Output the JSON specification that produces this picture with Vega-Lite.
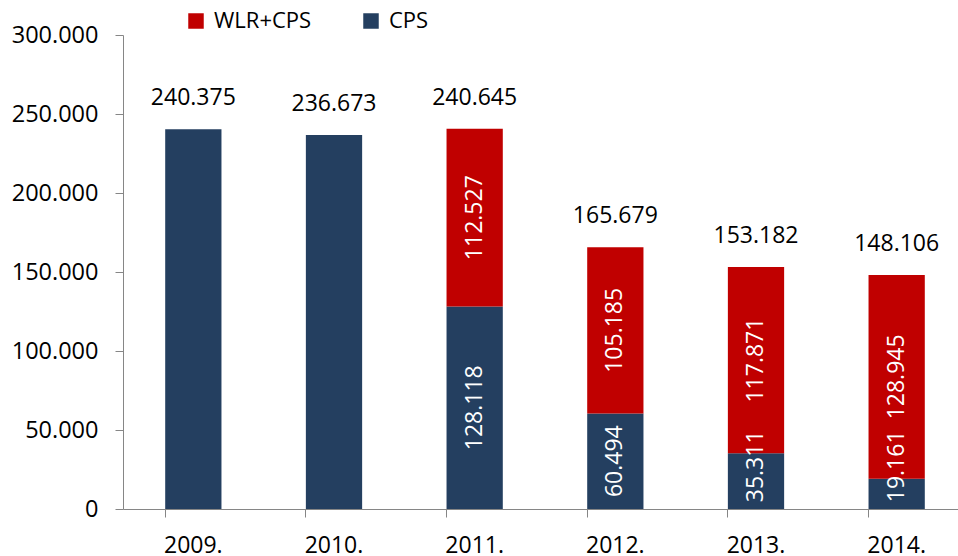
{
  "$schema": "https://vega.github.io/schema/vega-lite/v6.json",
  "autosize": {"type": "none"},
  "padding": {"left": 123, "top": 35, "right": 0, "bottom": 47},
  "width": 835,
  "height": 474,
  "config": {
    "view": {"stroke": null},
    "font": "Open Sans",
    "locale": {"number": {"decimal": ",", "thousands": ".", "grouping": [3], "currency": ["", ""]}}
  },
  "data": {"values": [
    {"year": "2009.", "series": "CPS", "value": 240375},
    {"year": "2010.", "series": "CPS", "value": 236673},
    {"year": "2011.", "series": "CPS", "value": 128118},
    {"year": "2011.", "series": "WLR+CPS", "value": 112527},
    {"year": "2012.", "series": "CPS", "value": 60494},
    {"year": "2012.", "series": "WLR+CPS", "value": 105185},
    {"year": "2013.", "series": "CPS", "value": 35311},
    {"year": "2013.", "series": "WLR+CPS", "value": 117871},
    {"year": "2014.", "series": "CPS", "value": 19161},
    {"year": "2014.", "series": "WLR+CPS", "value": 128945}
  ]},
  "transform": [
    {"stack": "value", "groupby": ["year"], "sort": [{"field": "series", "order": "ascending"}], "as": ["v0", "v1"]},
    {"calculate": "max((datum.v0 + datum.v1) / 2, 27000)", "as": "mid"},
    {"joinaggregate": [{"op": "count", "as": "n"}], "groupby": ["year"]}
  ],
  "encoding": {
    "x": {
      "field": "year", "type": "nominal", "sort": null,
      "scale": {"range": [0, 844], "paddingInner": 0.6, "paddingOuter": 0.3},
      "axis": {
        "title": null, "labelAngle": 0, "bandPosition": 0,
        "domainColor": "#868686", "tickColor": "#868686", "tickSize": 8,
        "labelFontSize": 23, "labelColor": "#000000", "labelPadding": 17, "labelFont": "Open Sans"
      }
    }
  },
  "layer": [
    {
      "mark": {"type": "bar"},
      "encoding": {
        "y": {
          "field": "v0", "type": "quantitative",
          "scale": {"domain": [0, 300000], "nice": false},
          "axis": {
            "title": null, "values": [0, 50000, 100000, 150000, 200000, 250000, 300000],
            "format": ",.0f", "grid": false,
            "domainColor": "#868686", "tickColor": "#868686", "tickSize": 8,
            "labelFontSize": 23.5, "labelColor": "#000000", "labelPadding": 17, "labelFont": "Open Sans"
          }
        },
        "y2": {"field": "v1"},
        "color": {
          "field": "series", "type": "nominal",
          "scale": {"domain": ["WLR+CPS", "CPS"], "range": ["#C00000", "#243F60"]},
          "legend": {
            "title": null, "orient": "none", "direction": "horizontal",
            "legendX": 62, "legendY": -25,
            "symbolType": "square", "symbolSize": 240, "symbolStrokeWidth": 0,
            "labelFontSize": 22, "labelColor": "#000000", "labelFont": "Open Sans",
            "labelOffset": 7, "columnPadding": 48
          }
        }
      }
    },
    {
      "transform": [{"filter": "datum.n > 1"}],
      "mark": {"type": "text", "angle": 270, "color": "#FFFFFF", "fontSize": 23, "baseline": "middle", "align": "center"},
      "encoding": {
        "y": {"field": "mid", "type": "quantitative"},
        "text": {"field": "value", "type": "quantitative", "format": ",.0f"}
      }
    },
    {
      "transform": [{"aggregate": [{"op": "max", "field": "v1", "as": "total"}], "groupby": ["year"]}],
      "mark": {"type": "text", "fontSize": 23, "baseline": "middle", "align": "center", "dy": -31, "color": "#000000"},
      "encoding": {
        "y": {"field": "total", "type": "quantitative"},
        "text": {"field": "total", "type": "quantitative", "format": ",.0f"}
      }
    }
  ]
}
